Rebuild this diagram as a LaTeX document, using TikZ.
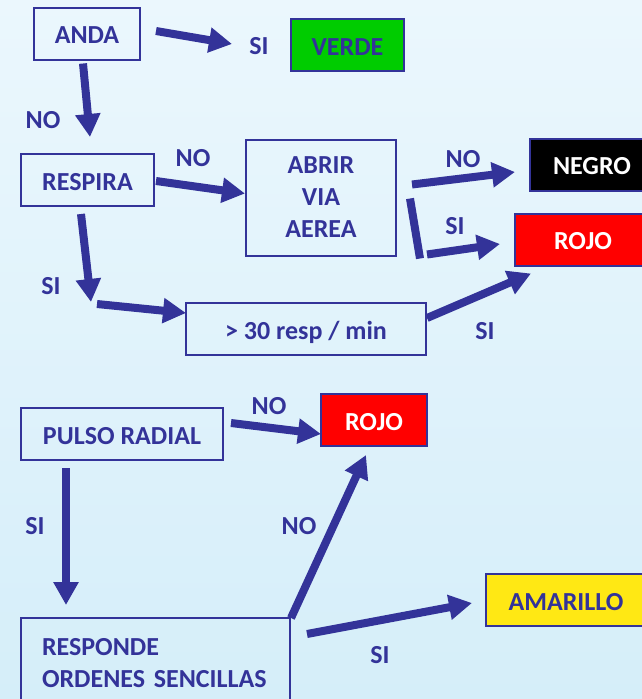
\documentclass[tikz,border=0pt]{standalone}
\usepackage{fontspec}
\setmainfont{Carlito}
\usetikzlibrary{arrows.meta,calc}
\definecolor{txtblue}{RGB}{51,51,153}
\definecolor{verdecolor}{RGB}{0,204,0}
\definecolor{rojocolor}{RGB}{255,0,0}
\definecolor{amarillocolor}{RGB}{255,232,20}
\definecolor{bgtop}{RGB}{235,247,253}
\definecolor{bgbottom}{RGB}{213,238,249}

\begin{document}
\begin{tikzpicture}[
    x=1pt, y=-1pt,
    every node/.style={font=\fontsize{26}{32}\selectfont\bfseries, text=txtblue},
    box/.style={rectangle, draw=txtblue, line width=2pt, minimum height=52pt, inner sep=0pt, outer sep=0pt, text height=20pt, text depth=0pt, align=center},
    tallbox/.style={box, text height=, text depth=},
    lbl/.style={inner sep=0pt},
    flow/.style={-{Triangle[width=24pt,length=23pt]}, line width=8pt, txtblue},
    bar/.style={line width=8pt, txtblue}
]
\useasboundingbox (0,0) rectangle (642,699);
\shade[top color=bgtop, bottom color=bgbottom] (0,0) rectangle (642,699);
\clip (0,0) rectangle (642,699);

% Boxes
\node[box, minimum width=106pt] (anda) at (87,33.5) {ANDA};
\node[box, fill=verdecolor, minimum width=113pt] (verde) at (347.5,45) {VERDE};
\node[box, minimum width=133pt] (respira) at (87.5,180) {RESPIRA};
\node[tallbox, minimum width=150pt, minimum height=116pt] (abrir) at (321,197.5) {ABRIR\\VIA\\AEREA};
\node[box, fill=black, text=white, minimum width=124pt] (negro) at (592,164.5) {NEGRO};
\node[box, fill=rojocolor, text=white, minimum width=136pt] (rojoA) at (583,239.5) {ROJO};
\node[box, minimum width=240pt] (resp30) at (306,329) {> 30 resp / min};
\node[box, minimum width=202pt] (pulso) at (122,434) {PULSO RADIAL};
\node[box, fill=rojocolor, text=white, minimum width=106pt] (rojoB) at (374,420) {ROJO};
\node[tallbox, anchor=north west, align=left, text width=227pt, inner xsep=21pt, minimum height=90pt] (responde) at (21,618) {RESPONDE\\ORDENES SENCILLAS};
\node[box, fill=amarillocolor, minimum width=160pt] (amarillo) at (566,600) {AMARILLO};

% Arrows
\draw[flow] ($(anda.east)+(16,-2.5)$) -- ($(verde.west)+(-59,-1)$);
\draw[flow] ($(anda.south)+(-4,4)$) -- ($(respira.north)+(2.5,-17)$);
\draw[flow] ($(respira.east)+(2,1)$) -- ($(abrir.west)+(-1,-4)$);
\draw[flow] ($(abrir.east)+(16,-13)$) -- ($(negro.west)+(-15,7.5)$);
\coordinate (bendA) at ($(abrir.south east)+(24,3)$);
\draw[bar] ($(abrir.east)+(14,1)$) -- (bendA);
\draw[flow] ($(bendA)+(7,-4)$) -- ($(rojoA.west)+(-15,4.5)$);
\coordinate (bendB) at ($(respira.south)+(3.5,96)$);
\draw[flow] ($(respira.south)+(-6.5,8)$) -- (bendB);
\draw[flow] ($(bendB)+(6,2)$) -- ($(resp30.west)+(0,-16)$);
\draw[flow] ($(resp30.east)+(1,-11)$) -- ($(rojoA.south west)+(16,8)$);
\draw[flow] ($(pulso.east)+(8,-11)$) -- ($(rojoB.west)+(0,14)$);
\draw[flow] ($(pulso.south)+(-56,8)$) -- ($(responde.north west)+(45,-13)$);
\draw[flow] ($(responde.north east)+(1,0)$) -- ($(rojoB.south)+(-8,9)$);
\draw[flow] ($(responde.north east)+(17,16)$) -- ($(amarillo.west)+(-14,3)$);

% Labels
\node[lbl] (siVerde) at (259,46) {SI};
\node[lbl] (noAnda) at (43,120) {NO};
\node[lbl] (noRespira) at (193,158) {NO};
\node[lbl] (noNegro) at (463,159) {NO};
\node[lbl] (siRojoA) at (455,226) {SI};
\node[lbl] (siRespira) at (51,286) {SI};
\node[lbl] (siResp30) at (485,331) {SI};
\node[lbl] (noPulso) at (269,406) {NO};
\node[lbl] (siPulso) at (35,526) {SI};
\node[lbl] (noResponde) at (299,526) {NO};
\node[lbl] (siResponde) at (380,655) {SI};

\end{tikzpicture}
\end{document}
